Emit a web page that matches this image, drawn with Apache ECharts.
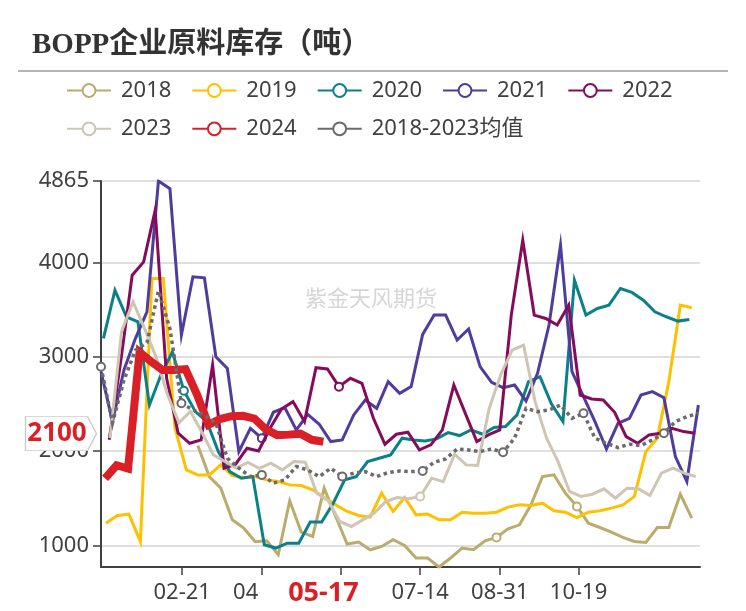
<!DOCTYPE html>
<html>
<head>
<meta charset="utf-8">
<script src="https://cdn.jsdelivr.net/npm/echarts@6/dist/echarts.min.js"></script>
<style>
html,body{margin:0;padding:0;background:#fff;}
#chart{width:746px;height:611px;}
</style>
</head>
<body>
<div id="chart"></div>
<script>
// ---------------- data ----------------
const chartTitle = 'BOPP企业原料库存（吨）';
const watermarkText = '紫金天风期货';
const seriesNames = ['2018', '2019', '2020', '2021', '2022', '2023', '2024', '2018-2023均值'];
// first data day (day of year) of each series; points are weekly
const startDay = [59, 3, 1.5, 0, 5, 5.5, 2.5, 0];
const weekStep = 7;

const v2018 = [2060, 1730, 1607, 1272, 1183, 1040, 1049, 901, 1473, 1141, 1095, 1607, 1307, 1014, 1035, 954, 989, 1060, 1000, 866, 866, 771, 866, 972, 954, 1049, 1085, 1176, 1218, 1430, 1730, 1748, 1554, 1413, 1236, 1190, 1141, 1085, 1042, 1032, 1190, 1190, 1543, 1289];
const v2019 = [1236, 1317, 1332, 1042, 3831, 3831, 2250, 1800, 1748, 1748, 1854, 1740, 1720, 1730, 1695, 1677, 1642, 1635, 1589, 1508, 1430, 1360, 1317, 1300, 1554, 1360, 1508, 1324, 1332, 1271, 1271, 1352, 1342, 1342, 1352, 1406, 1430, 1423, 1448, 1367, 1352, 1296, 1352, 1367, 1395, 1430, 1519, 1995, 2137, 2737, 3549, 3520];
const v2020 = [3196, 3707, 3425, 3372, 2490, 2807, 3054, 2640, 2419, 2313, 1995, 1783, 1713, 1730, 1007, 972, 1024, 1024, 1247, 1247, 1448, 1695, 1730, 1889, 1925, 1960, 2137, 2119, 2108, 2130, 2196, 2165, 2225, 2179, 2250, 2260, 2384, 2737, 2790, 2500, 2313, 3813, 3443, 3513, 3548, 3725, 3683, 3601, 3478, 3425, 3379, 3397];
const v2021 = [2843, 2313, 2860, 3196, 3478, 4865, 4784, 3231, 3849, 3838, 3001, 2878, 1995, 2242, 2137, 2412, 2461, 2225, 2390, 2285, 2101, 2119, 2384, 2542, 2454, 2737, 2613, 2684, 3238, 3443, 3443, 3178, 3295, 2896, 2729, 2673, 2701, 2532, 2825, 3337, 4184, 2843, 2578, 2313, 2023, 2295, 2348, 2595, 2631, 2567, 1942, 1678, 2490];
const v2022 = [2120, 2950, 3866, 4007, 4554, 2772, 2190, 2083, 2119, 2913, 1819, 1861, 2031, 2002, 2242, 2447, 2525, 2313, 2885, 2871, 2684, 2772, 2719, 2348, 2073, 2179, 2200, 2013, 2066, 2225, 2701, 2401, 2101, 2172, 2225, 3443, 4237, 3443, 3407, 3337, 3549, 2595, 2553, 2542, 2412, 2154, 2083, 2172, 2190, 2242, 2207, 2190];
const v2023 = [2137, 3266, 3584, 3301, 3000, 2600, 2300, 2420, 2200, 1960, 1890, 1820, 1880, 1818, 1872, 1801, 1889, 1882, 1554, 1473, 1254, 1201, 1271, 1342, 1466, 1508, 1494, 1519, 1713, 1677, 1967, 1854, 1847, 2450, 2807, 3072, 3125, 2525, 2137, 1889, 1572, 1519, 1543, 1600, 1501, 1607, 1600, 1529, 1766, 1819, 1766, 1730];
const v2024 = [1710, 1850, 1815, 3050, 2950, 2860, 2860, 2870, 2600, 2280, 2340, 2370, 2375, 2345, 2230, 2170, 2175, 2185, 2120, 2100];
const vAvg = [2895, 2300, 2754, 3072, 3150, 3700, 3300, 2507, 2437, 2383, 2295, 1925, 1819, 1730, 1748, 1660, 1695, 1836, 1801, 1730, 1818, 1730, 1766, 1783, 1730, 1773, 1790, 1783, 1790, 1882, 1917, 2023, 2013, 1995, 2023, 1988, 2137, 2454, 2419, 2437, 2489, 2348, 2401, 2137, 2083, 2038, 2073, 2059, 2119, 2190, 2313, 2366, 2400];

// x axis ticks (day of year) and their labels
const tickDays = [49.5, 98, 146, 194.5, 243, 291];
const tickLabels = ['02-21', '04-09', '05-27', '07-14', '08-31', '10-19'];
// y axis ticks
const yTicks = [1000, 2000, 3000, 4000, 4865];
const yMin = 771;
const yMax = 4865;
// latest point of 2024
const latestLabel = '05-17';
const latestValue = 2100;

// ---------------- style ----------------
const seriesColors = ['#BBAC6E', '#FFC000', '#0C8088', '#4F3C9C', '#850C5C', '#CFC5B3', '#DB1F27', '#6B6B6B'];
const lineWidths = [3, 3, 3, 3, 3, 3, 8, 3.5];
// which points carry a circle marker
const markerIdx = [[26, 33], [], [7], [14], [20], [27], [], [0, 7, 14, 21, 28, 35, 42, 49]];
const FONT = "'Noto Sans', 'Noto Sans CJK SC', sans-serif";
const TXT = '#404040';

const allValues = [v2018, v2019, v2020, v2021, v2022, v2023, v2024, vAvg];
const latestDay = startDay[6] + (v2024.length - 1) * weekStep;

const series = allValues.map((vals, s) => {
  const color = seriesColors[s];
  const obj = {
    name: seriesNames[s],
    type: 'line',
    symbol: 'emptyCircle',
    symbolSize: 8,
    showSymbol: true,
    z: 2 + s * 0.01,
    data: vals.map((v, i) => {
      const d = { value: [startDay[s] + i * weekStep, v] };
      if (markerIdx[s].indexOf(i) < 0) d.symbol = 'none';
      return d;
    }),
    lineStyle: {
      color: color,
      width: lineWidths[s],
      type: s === 7 ? [3.5, 3.5] : 'solid',
      join: 'miter'
    },
    itemStyle: { color: color, borderWidth: 2 },
    emphasis: { disabled: true },
    silent: true
  };
  if (s === 6) {
    obj.markPoint = {
      silent: true,
      symbol: 'path://M0,0 L62,0 L71,17 L62,34 L0,34 Z',
      symbolSize: [71, 34],
      symbolOffset: [-40, -8],
      itemStyle: { color: '#ffffff', borderColor: '#cccccc', borderWidth: 1 },
      label: {
        show: true,
        position: 'inside',
        formatter: String(latestValue),
        color: seriesColors[6],
        fontSize: 26,
        fontWeight: 'bold',
        fontFamily: FONT,
        offset: [-4, 0]
      },
      data: [{ coord: [0, latestValue], value: latestValue }]
    };
  }
  return obj;
});

const labelDays = tickDays.concat([latestDay]);

const legendCommon = {
  left: 66,
  padding: 0,
  itemWidth: 44,
  itemHeight: 16,
  itemGap: 20,
  lineStyle: { width: 2, type: 'solid' },
  textStyle: { fontSize: 22, color: TXT, fontFamily: FONT, padding: [0, 0, 0, 5] }
};

const option = {
  animation: false,
  backgroundColor: '#ffffff',
  title: {
    text: chartTitle,
    left: 27,
    top: 26,
    textStyle: {
      fontSize: 29,
      fontWeight: 'bold',
      color: '#333333',
      fontFamily: "'Liberation Serif', 'Noto Sans CJK SC', serif"
    }
  },
  legend: [
    Object.assign({}, legendCommon, { data: seriesNames.slice(0, 5), top: 79.5 }),
    Object.assign({}, legendCommon, { data: seriesNames.slice(5), top: 117.8 })
  ],
  grid: { left: 101, right: 46, top: 181, bottom: 44, containLabel: false, outerBoundsMode: 'none' },
  xAxis: {
    type: 'value',
    min: 0,
    max: 365,
    axisLine: { show: true, lineStyle: { color: TXT, width: 2 } },
    axisTick: { show: true, length: 8, customValues: tickDays, lineStyle: { color: TXT, width: 1.5 } },
    splitLine: { show: false },
    axisLabel: {
      customValues: labelDays,
      margin: 15,
      fontSize: 22,
      color: TXT,
      fontFamily: FONT,
      hideOverlap: false,
      formatter: function (val) {
        if (Math.abs(val - latestDay) < 1e-6) return '{hl|' + latestLabel + '}';
        let best = 0;
        for (let i = 0; i < tickDays.length; i++) {
          if (Math.abs(tickDays[i] - val) < Math.abs(tickDays[best] - val)) best = i;
        }
        return tickLabels[best];
      },
      rich: {
        hl: {
          fontSize: 27,
          fontWeight: 'bold',
          lineHeight: 22,
          color: seriesColors[6],
          fontFamily: FONT,
          backgroundColor: '#ffffff',
          padding: [0, 29, 0, 29]
        }
      }
    }
  },
  yAxis: {
    type: 'value',
    min: yMin,
    max: yMax,
    axisLine: { show: true, lineStyle: { color: TXT, width: 2 } },
    axisTick: { show: true, length: 8, customValues: yTicks, lineStyle: { color: TXT, width: 1.5 } },
    axisLabel: {
      customValues: yTicks,
      margin: 12,
      fontSize: 22,
      color: TXT,
      fontFamily: FONT,
      formatter: function (v) { return String(v); }
    },
    splitLine: { show: true, lineStyle: { color: '#d4d4d4', width: 1.5 } }
  },
  graphic: [
    {
      type: 'line',
      shape: { x1: 18, y1: 71, x2: 728, y2: 71 },
      style: { stroke: '#b4b4b4', lineWidth: 2 },
      silent: true
    },
    {
      type: 'text',
      left: 305,
      top: 287,
      z: 0,
      silent: true,
      style: { text: watermarkText, fontSize: 22, fill: '#d6d6d6', fontFamily: "'Noto Sans CJK SC', sans-serif" }
    }
  ],
  series: series
};

const chart = echarts.init(document.getElementById('chart'), null, { renderer: 'canvas' });
chart.setOption(option);
</script>
</body>
</html>
